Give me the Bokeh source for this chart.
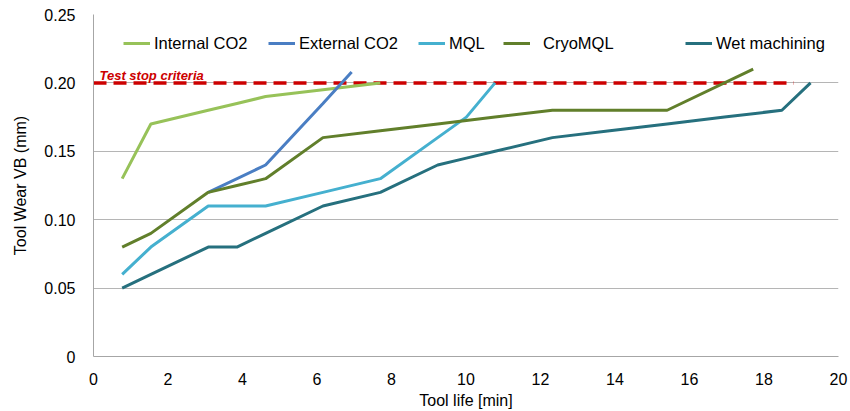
from bokeh.plotting import figure
from bokeh.models import Legend, LegendItem, Label, FixedTicker, Range1d
from bokeh.embed import file_html
from bokeh.resources import INLINE

# ---- data ----
internal_x = [0.77, 1.54, 3.08, 3.85, 4.62, 6.16, 7.70]
internal_y = [0.13, 0.17, 0.18, 0.185, 0.19, 0.195, 0.20]

external_x = [3.08, 4.62, 6.16, 6.93]
external_y = [0.12, 0.14, 0.185, 0.208]

mql_x = [0.77, 1.54, 3.08, 4.62, 6.16, 7.70, 9.24, 10.01, 10.78]
mql_y = [0.06, 0.08, 0.11, 0.11, 0.12, 0.13, 0.16, 0.175, 0.20]

cryo_x = [0.77, 1.54, 3.08, 3.85, 4.62, 6.16, 7.70, 9.24, 10.78, 12.32, 15.40, 17.71]
cryo_y = [0.08, 0.09, 0.12, 0.125, 0.13, 0.16, 0.165, 0.17, 0.175, 0.18, 0.18, 0.21]

wet_x = [0.77, 1.54, 3.08, 3.85, 4.62, 6.16, 7.70, 9.24, 10.01, 10.78, 12.32, 13.86, 15.40, 16.94, 18.48, 19.25]
wet_y = [0.05, 0.06, 0.08, 0.08, 0.09, 0.11, 0.12, 0.14, 0.145, 0.15, 0.16, 0.165, 0.17, 0.175, 0.18, 0.20]

stop_x = [0.0, 18.8]
stop_y = [0.20, 0.20]
stop_label = "Test stop criteria"

series_names = ["Internal CO2", "External CO2", "MQL", "CryoMQL", "Wet machining"]
series_colors = ["#97C259", "#4A7EC3", "#45B0CF", "#617F2B", "#26707E"]

x_ticks = [0, 2, 4, 6, 8, 10, 12, 14, 16, 18, 20]
y_ticks = [0, 0.05, 0.10, 0.15, 0.20, 0.25]
y_tick_labels = ["0", "0.05", "0.10", "0.15", "0.20", "0.25"]

FONT = "Liberation Sans"

p = figure(width=850, height=411, output_backend="svg", toolbar_location=None,
           x_range=Range1d(0, 20), y_range=Range1d(0, 0.25),
           min_border_left=93, min_border_right=12, min_border_top=14, min_border_bottom=55)
p.outline_line_color = None
p.background_fill_color = "white"
p.border_fill_color = "white"

# grid
p.xgrid.visible = False
p.ygrid.ticker = FixedTicker(ticks=y_ticks)
p.ygrid.grid_line_color = "#B5B5B5"
p.ygrid.grid_line_width = 1

# axes
for ax in (p.xaxis[0], p.yaxis[0]):
    ax.axis_line_color = "#A6A6A6"
    ax.axis_line_width = 1
    ax.major_tick_out = 0
    ax.major_tick_in = 0
    ax.minor_tick_out = 0
    ax.minor_tick_in = 0
    ax.major_label_text_font = FONT
    ax.major_label_text_font_size = "16px"
    ax.major_label_text_color = "#000000"
    ax.axis_label_text_font = FONT
    ax.axis_label_text_font_size = "16px"
    ax.axis_label_text_font_style = "normal"
    ax.axis_label_text_color = "#000000"

p.xaxis.ticker = FixedTicker(ticks=x_ticks)
p.yaxis.ticker = FixedTicker(ticks=y_ticks)
p.yaxis.major_label_overrides = {t: l for t, l in zip(y_ticks, y_tick_labels)}
p.xaxis.axis_label = "Tool life [min]"
p.yaxis.axis_label = "Tool Wear VB (mm)"
p.xaxis.major_label_standoff = 16
p.xaxis.axis_label_standoff = 4
p.yaxis.major_label_standoff = 18
p.yaxis.axis_label_standoff = 12

# stop criteria line
p.line(stop_x, stop_y, line_color="#CC0000", line_width=3.5, line_dash="13 7")

xs = [internal_x, external_x, mql_x, cryo_x, wet_x]
ys = [internal_y, external_y, mql_y, cryo_y, wet_y]
renderers = []
for x, y, c in zip(xs, ys, series_colors):
    r = p.line(x, y, line_color=c, line_width=3)
    renderers.append(r)

p.add_layout(Label(x=stop_x[0], y=stop_y[0], x_offset=6, y_offset=7, text=stop_label,
                   text_font=FONT, text_font_size="13px", text_font_style="bold italic",
                   text_color="#CC0000", text_baseline="alphabetic"))

# legends placed individually
leg_x = [30, 175, 325, 410, 592]
standoffs = [4, 4, 4, 13, 4]
for name, r, lx, so in zip(series_names, renderers, leg_x, standoffs):
    lg = Legend(items=[LegendItem(label=name, renderers=[r])], location=(lx, 303),
                orientation="horizontal", padding=0, margin=0, spacing=0,
                border_line_color=None, background_fill_alpha=0,
                glyph_width=27, glyph_height=20, label_height=20,
                label_standoff=so, label_text_font=FONT, label_text_font_size="16.5px",
                label_text_color="#000000", click_policy="none")
    p.add_layout(lg, "center")

open("out.html", "w").write(file_html(p, INLINE))
